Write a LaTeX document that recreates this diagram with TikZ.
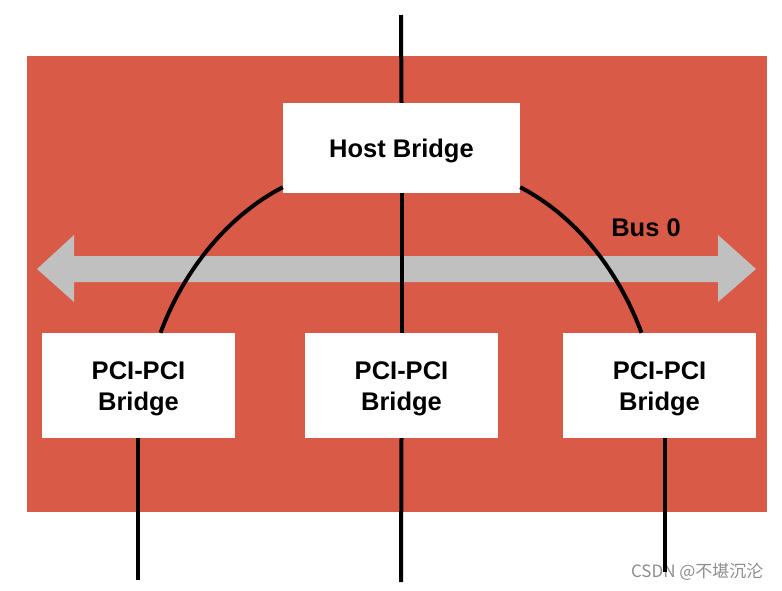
\documentclass[tikz,border=0pt]{standalone}
\usepackage{fontspec}
\setmainfont{Liberation Sans}
\newfontfamily\cjk{Noto Sans CJK SC}
\definecolor{bgred}{HTML}{D95B47}
\definecolor{busgray}{HTML}{C0C0C0}
\definecolor{wmgray}{HTML}{8E8E8E}
\begin{document}
\begin{tikzpicture}[x=1pt,y=-1pt,
  box/.style={fill=white,draw=none,minimum width=193pt,minimum height=105pt,inner sep=0pt},
  lbl/.style={inner sep=0pt,align=center,font=\fontsize{25.5}{31}\selectfont\bfseries},
  wire/.style={line width=4pt,black}]
\useasboundingbox (0,0) rectangle (782,590);
\fill[bgred] (27,56) rectangle (767,512);
% bus arrow
\fill[busgray] (37,269) -- (74,235) -- (74,256) -- (718,256) -- (718,235) -- (756,269) -- (718,302) -- (718,282) -- (74,282) -- (74,302) -- cycle;
\node[lbl] (bus) at (646,228) {Bus 0};
% nodes
\node[box,minimum width=237pt,minimum height=90pt] (host) at (401.5,148) {};
\node[box] (p1) at (138.5,385.5) {};
\node[box] (p2) at (401.5,385.5) {};
\node[box] (p3) at (659.5,385.5) {};
\node[lbl] (hostt) at ([yshift=-3pt]host.center) {Host Bridge};
\node[lbl] (p1t) at ([yshift=-3.5pt]p1.center) {PCI-PCI\\Bridge};
\node[lbl] (p2t) at ([yshift=-3.5pt]p2.center) {PCI-PCI\\Bridge};
\node[lbl] (p3t) at ([yshift=-3.5pt]p3.center) {PCI-PCI\\Bridge};
% watermark
\node[font=\cjk\fontsize{17}{20}\selectfont,text=wmgray,anchor=east] (wm) at (767,572) {CSDN @不堪沉沦};
% wires
\coordinate (top) at (401,15);
\coordinate (b1) at (138,580);
\coordinate (b2) at (401,582);
\coordinate (b3) at (665,572);
\draw[wire] (top) -- (host.north);
\draw[wire] (host.south) -- (p2.north);
\draw[wire] (p1.south -| b1) -- (b1);
\draw[wire] (p2.south) -- (b2);
\draw[wire] (p3.south -| b3) -- (b3);
\draw[wire] ([yshift=6pt]host.south west) .. controls (220,220) and (180,280) .. ([xshift=22pt]p1.north);
\draw[wire] ([yshift=6pt]host.south east) .. controls (583,220) and (622,280) .. ([xshift=-18pt]p3.north);
\end{tikzpicture}
\end{document}
